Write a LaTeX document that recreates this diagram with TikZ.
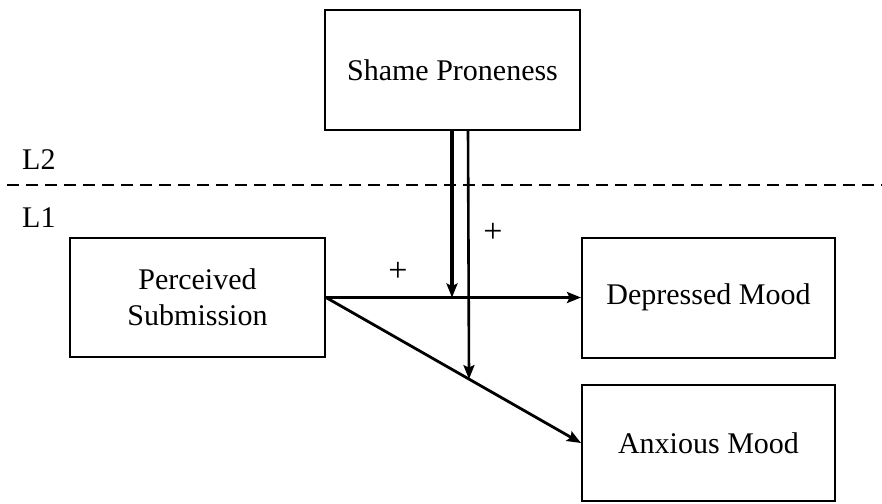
\documentclass[tikz,border=0pt]{standalone}
\usepackage{fontspec}
\setmainfont{Liberation Serif}
\usetikzlibrary{arrows.meta}
\begin{document}
\begin{tikzpicture}[x=1pt,y=-1pt,
  varbox/.style={draw,line width=2pt,minimum width=253pt,minimum height=118pt,
    inner sep=0pt,align=center,font=\fontsize{30}{36}\selectfont},
  path/.style={line width=2.8pt,-{Stealth[length=14pt,width=11pt,inset=2.5pt]}},
  lbl/.style={font=\fontsize{30}{34}\selectfont,inner sep=0pt}]
\useasboundingbox (0,0) rectangle (882,503);
% variables
\node[varbox,minimum width=255pt,minimum height=120pt] (sp) at (452.5,70) {Shame Proneness};
\node[varbox,minimum width=255pt,minimum height=119pt] (ps) at (197.5,297.5) {Perceived\\Submission};
\node[varbox,minimum height=120pt] (dm) at (708.5,297.5) {Depressed Mood};
\node[varbox,minimum height=116pt] (am) at (708.5,443) {Anxious Mood};
% level separator
\coordinate (ll) at (7,185);
\coordinate (lr) at (882,185);
\draw[line width=2pt,dash pattern=on 12pt off 7pt] (ll) -- (lr);
\node[lbl,anchor=west] (l2) at (22,160) {L2};
\node[lbl,anchor=west] (l1) at (22,218) {L1};
% direct paths
\draw[path] (ps.east) -- (dm.west);
\draw[path] (ps.east) -- (am.west);
% cross-level moderation
\coordinate (ma) at (452,130);
\coordinate (mb) at (452,297.5);
\coordinate (na) at (468,130);
\path (ps.east) -- (am.west) coordinate[pos=0.5608] (nb);
\draw[path,line width=3.2pt] (ma) -- (mb);
\draw[path,line width=2.6pt] (na) -- (nb);
\node[lbl,font=\fontsize{34}{34}\selectfont] (p1) at (398,272) {+};
\node[lbl,font=\fontsize{34}{34}\selectfont] (p2) at (493,233) {+};
\end{tikzpicture}
\end{document}
